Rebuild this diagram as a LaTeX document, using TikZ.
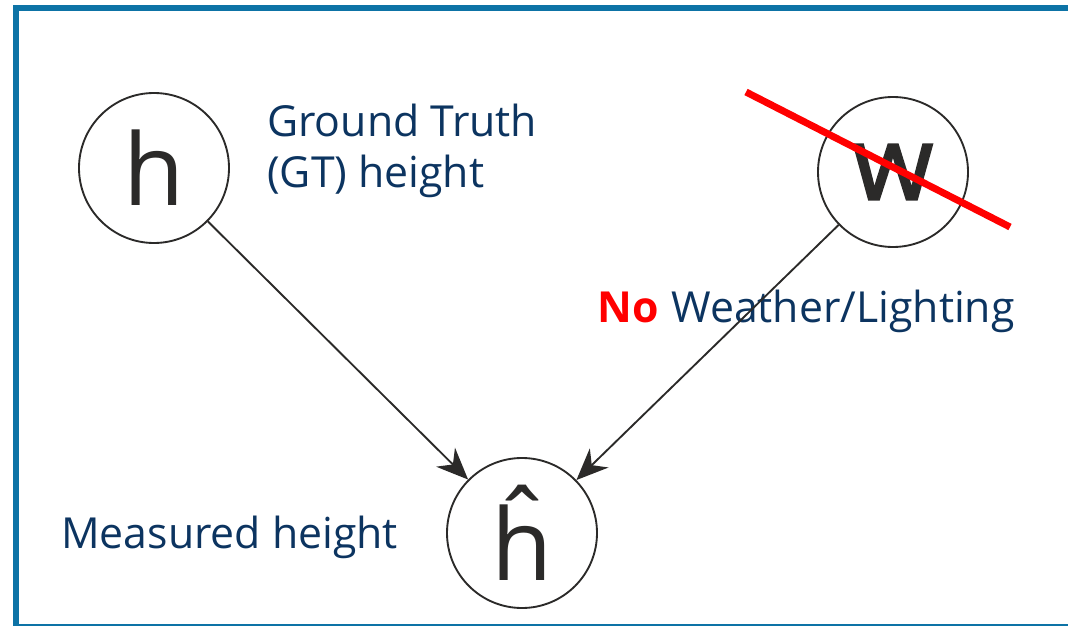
\documentclass[tikz,border=0pt]{standalone}
\usepackage{fontspec}
\setmainfont{Open Sans}
\newfontfamily\varbold{Open Sans}[FakeBold=2.2]
\usepackage{tikz}
\usetikzlibrary{arrows.meta,positioning}
\usepackage{xcolor}
\definecolor{frameblue}{RGB}{13,115,166}
\definecolor{labelnavy}{RGB}{12,52,96}
\definecolor{ink}{RGB}{43,42,41}
\definecolor{strikered}{RGB}{255,0,0}

\begin{document}
\begin{tikzpicture}[x=0.03cm,y=-0.03cm,
  var/.style={circle,draw=ink,line width=1.6pt,minimum size=4.5cm,
              inner sep=0pt,text=ink,font=\fontsize{85}{90}\selectfont},
  lbl/.style={inner sep=0pt,text=labelnavy,font=\fontsize{36.5}{43.4}\selectfont},
  arrow/.style={-{Stealth[length=0.95cm,width=0.8cm]},draw=ink,line width=1.6pt}
]
\useasboundingbox (0,0) rectangle (1068,626);
\clip (0,0) rectangle (1068,626);
\draw[frameblue,line width=0.18cm] (16,8) rectangle (1080,627);

\node[var]                                            (h)    at (154,168) {h};
\node[var,font=\fontsize{88}{90}\varbold]             (w)    at (893,172) {w};
\node[var]                                            (hhat) at (522,533) {ĥ};

\node[lbl,anchor=north west,align=left] (gt)    at (267,104) {Ground Truth\\(GT) height};
\node[lbl,anchor=base west]             (meas)  at (61,548)  {Measured height};
\node[lbl,anchor=base west]             (noweather) at (597,322)
  {\textcolor{strikered}{\bfseries No}\hspace{0.3em}Weather/Lighting};

\draw[arrow] (h) -- (hhat);
\draw[arrow] (w) -- (hhat);

% crossed out
\coordinate (strikeA) at (746,92);
\coordinate (strikeB) at (1010,227);
\draw[strikered,line width=0.21cm] (strikeA) -- (strikeB);
\end{tikzpicture}
\end{document}
